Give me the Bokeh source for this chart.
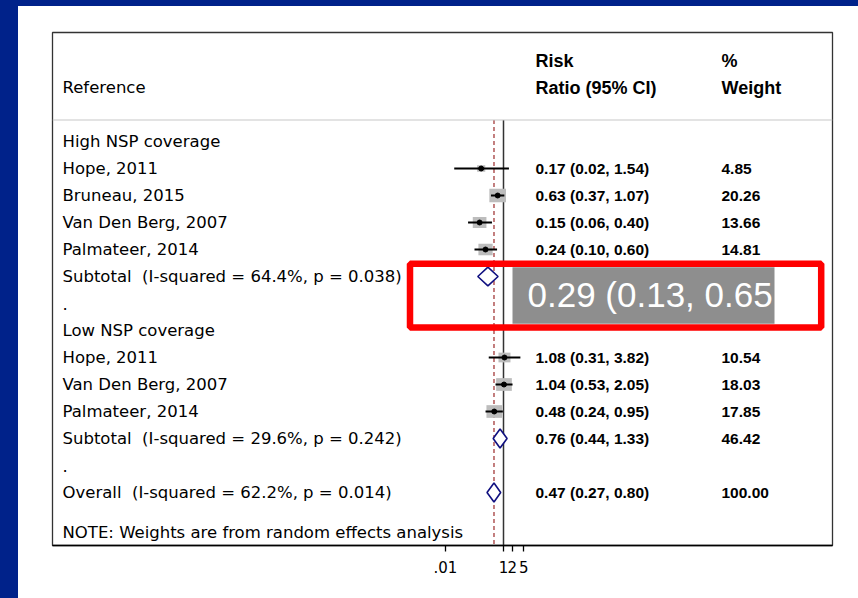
import math
from bokeh.plotting import figure
from bokeh.models import Range1d, FixedTicker, Span, CustomJSTickFormatter
from bokeh.core.properties import value
from bokeh.embed import file_html
from bokeh.resources import INLINE

# ---------------- data ----------------
group_labels = ["High NSP coverage", "Low NSP coverage"]

high_studies = ["Hope, 2011", "Bruneau, 2015", "Van Den Berg, 2007", "Palmateer, 2014"]
high_rr = [0.17, 0.63, 0.15, 0.24]
high_lo = [0.02, 0.37, 0.06, 0.10]
high_hi = [1.54, 1.07, 0.40, 0.60]
high_w = [4.85, 20.26, 13.66, 14.81]

low_studies = ["Hope, 2011", "Van Den Berg, 2007", "Palmateer, 2014"]
low_rr = [1.08, 1.04, 0.48]
low_lo = [0.31, 0.53, 0.24]
low_hi = [3.82, 2.05, 0.95]
low_w = [10.54, 18.03, 17.85]

subtotal_labels = ["Subtotal \u00a0(I-squared = 64.4%, p = 0.038)",
                   "Subtotal \u00a0(I-squared = 29.6%, p = 0.242)"]
subtotal_rr = [0.29, 0.76]
subtotal_lo = [0.13, 0.44]
subtotal_hi = [0.65, 1.33]
subtotal_w = [53.58, 46.42]

overall_label = "Overall \u00a0(I-squared = 62.2%, p = 0.014)"
overall_rr = 0.47
overall_lo = 0.27
overall_hi = 0.80
overall_w = 100.00

header_left = "Reference"
header_rr = ["Risk", "Ratio (95% CI)"]
header_w = ["%", "Weight"]
note_text = "NOTE: Weights are from random effects analysis"

tick_values = [0.01, 1, 2, 5]
tick_labels = [".01", "1", "2", "5"]

# ---------------- layout helpers ----------------
PX_ONE, PX_DEC = 503.0, 29.0        # page x of RR=1, pixels per decade
ROW0, ROW_H = 141.0, 27.0           # page y of first row, row height
FR_L, FR_R, FR_T, FR_B = 52, 832, 32, 545


def xpos(px):
    return 10 ** ((px - PX_ONE) / PX_DEC)


def rpos(py):
    return (py - ROW0) / ROW_H


FONT = value("DejaVu Sans")
FS = "16.5px"
NFONT = value("Liberation Sans")
NFS = "15.5px"
HFS = "18px"

p = figure(width=858, height=598, x_axis_type="log",
           x_range=Range1d(xpos(FR_L), xpos(FR_R)),
           y_range=Range1d(rpos(FR_B), rpos(FR_T)),
           y_axis_location=None, toolbar_location=None, output_backend="svg",
           min_border_left=FR_L, min_border_right=858 - FR_R,
           min_border_top=FR_T, min_border_bottom=598 - FR_B,
           background_fill_color="white", border_fill_color=None,
           styles={"background": "linear-gradient(to right, #00228a 0px, #00228a 18px, rgba(0,0,0,0) 18px), "
                                 "linear-gradient(to bottom, #00228a 0px, #00228a 6px, #ffffff 6px)"})
p.grid.visible = False
p.outline_line_color = "#333333"
p.outline_line_width = 1.3

# rows
rows_high = [1, 2, 3, 4]
rows_low = [8, 9, 10]
rows_sub = [5, 11]
row_over = 13
HEADER_Y = rpos(119.5)

# header separator
p.add_layout(Span(location=HEADER_Y, dimension="width", line_color="#c8c8c8", line_width=1.2))

# reference lines
p.segment(x0=[1], y0=[HEADER_Y], x1=[1], y1=[rpos(FR_B) + 1], line_color="#333333", line_width=1.5)
p.segment(x0=[overall_rr], y0=[HEADER_Y], x1=[overall_rr], y1=[rpos(FR_B) + 1],
          line_color="#a33a3a", line_width=1.3, line_dash="4 3")

# studies
st_rr = high_rr + low_rr
st_lo = high_lo + low_lo
st_hi = high_hi + low_hi
st_w = high_w + low_w
st_rows = rows_high + rows_low
p.rect(x=st_rr, y=st_rows, width=[3.7 * math.sqrt(w) for w in st_w],
       height=[3.0 * math.sqrt(w) for w in st_w], width_units="screen", height_units="screen",
       fill_color="#bdbdbd", line_color=None)
p.segment(x0=st_lo, y0=st_rows, x1=st_hi, y1=st_rows, line_color="black", line_width=2)
p.scatter(x=st_rr, y=st_rows, size=5, color="black")

# diamonds
DH = 0.35
d_rr = subtotal_rr + [overall_rr]
d_lo = subtotal_lo + [overall_lo]
d_hi = subtotal_hi + [overall_hi]
d_rows = rows_sub + [row_over]
p.patches(xs=[[lo, rr, hi, rr] for lo, rr, hi in zip(d_lo, d_rr, d_hi)],
          ys=[[r, r - DH, r, r + DH] for r in d_rows],
          fill_color="white", line_color="#101080", line_width=1.6)

# text columns
left_text = [group_labels[0]] + high_studies + [subtotal_labels[0], ".",
             group_labels[1]] + low_studies + [subtotal_labels[1], ".", overall_label]
left_rows = list(range(0, 14))
p.text(x=[xpos(62)] * len(left_text), y=left_rows, text=left_text, text_font=FONT,
       text_font_size=FS, text_baseline="middle", text_align="left", text_color="black")
p.text(x=[xpos(62)], y=[rpos(532)], text=[note_text], text_font=FONT,
       text_font_size=FS, text_baseline="middle", text_align="left", text_color="black")
p.text(x=[xpos(62)], y=[-2], text=[header_left], text_font=FONT,
       text_font_size=FS, text_baseline="middle", text_align="left", text_color="black")
p.text(x=[xpos(535)] * 2, y=[-3, -2], text=header_rr, text_font=NFONT, text_font_style="bold",
       text_font_size=HFS, text_baseline="middle", text_align="left", text_color="black")
p.text(x=[xpos(721)] * 2, y=[-3, -2], text=header_w, text_font=NFONT, text_font_style="bold",
       text_font_size=HFS, text_baseline="middle", text_align="left", text_color="black")

ci_text = [f"{r:.2f} ({l:.2f}, {h:.2f})" for r, l, h in zip(st_rr, st_lo, st_hi)]
ci_text += [f"{subtotal_rr[1]:.2f} ({subtotal_lo[1]:.2f}, {subtotal_hi[1]:.2f})",
            f"{overall_rr:.2f} ({overall_lo:.2f}, {overall_hi:.2f})"]
w_text = [f"{w:.2f}" for w in st_w] + [f"{subtotal_w[1]:.2f}", f"{overall_w:.2f}"]
ci_rows = st_rows + [rows_sub[1], row_over]
p.text(x=[xpos(535)] * len(ci_text), y=ci_rows, text=ci_text, text_font=NFONT, text_font_style="bold",
       text_font_size=NFS, text_baseline="middle", text_align="left", text_color="black")
p.text(x=[xpos(721)] * len(w_text), y=ci_rows, text=w_text, text_font=NFONT, text_font_style="bold",
       text_font_size=NFS, text_baseline="middle", text_align="left", text_color="black")

# highlight overlay on first subtotal
p.quad(left=[xpos(512)], right=[xpos(774)], top=[rpos(266.7)], bottom=[rpos(323.3)],
       fill_color="#8e8e8e", line_color=None)
hl_text = f"{subtotal_rr[0]:.2f} ({subtotal_lo[0]:.2f}, {subtotal_hi[0]:.2f}"
p.text(x=[xpos(527)], y=[rpos(294)], text=[hl_text], text_font=value("Liberation Sans"),
       text_font_size="35px", text_baseline="middle", text_align="left", text_color="white")
p.quad(left=[xpos(409.5)], right=[xpos(820.7)], top=[rpos(263.3)], bottom=[rpos(327)],
       fill_color=None, line_color="#ff0000", line_width=6.5)

# axis
ax = p.xaxis[0]
ax.ticker = FixedTicker(ticks=tick_values, minor_ticks=[])
ax.formatter = CustomJSTickFormatter(args=dict(labels=tick_labels), code="return labels[index];")
ax.axis_line_color = "black"
ax.axis_line_width = 1.5
ax.major_tick_line_color = "black"
ax.major_tick_line_width = 1.3
ax.major_tick_out = 6
ax.major_tick_in = 0
ax.minor_tick_line_color = None
ax.major_label_standoff = 9
ax.major_label_text_font = "DejaVu Sans"
ax.major_label_text_font_size = "15px"
ax.major_label_text_color = "black"

open("out.html", "w").write(file_html(p, INLINE))
